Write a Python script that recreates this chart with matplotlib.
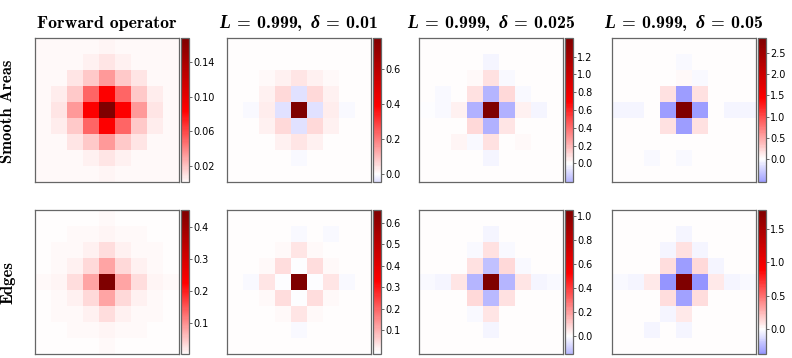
import numpy as np
import matplotlib
matplotlib.use("Agg")
import matplotlib.pyplot as plt

plt.rcParams['mathtext.fontset'] = 'custom'
plt.rcParams['mathtext.rm'] = 'cmr10'
plt.rcParams['mathtext.bf'] = 'cmb10'
plt.rcParams['mathtext.bfit'] = 'Liberation Serif:italic:bold'

#####################
# data (9x9 kernels)
smooth_fwd = [
    [0.0015, 0.0015, 0.0015, 0.002, 0.003, 0.002, 0.0015, 0.0015, 0.0015],
    [0.0015, 0.0015, 0.002, 0.004, 0.008, 0.004, 0.002, 0.0015, 0.0015],
    [0.0015, 0.0025, 0.008, 0.018, 0.034, 0.018, 0.008, 0.0025, 0.0015],
    [0.002, 0.006, 0.018, 0.050, 0.085, 0.050, 0.018, 0.006, 0.002],
    [0.0025, 0.008, 0.034, 0.085, 0.168, 0.085, 0.034, 0.008, 0.0025],
    [0.002, 0.006, 0.018, 0.050, 0.085, 0.050, 0.018, 0.006, 0.002],
    [0.0015, 0.0025, 0.008, 0.018, 0.034, 0.018, 0.008, 0.0025, 0.0015],
    [0.0015, 0.0015, 0.002, 0.004, 0.008, 0.004, 0.002, 0.0015, 0.0015],
    [0.0015, 0.0015, 0.0015, 0.002, 0.003, 0.002, 0.0015, 0.0015, 0.0015],
]
smooth_d010 = [
    [0, 0, 0, 0, 0, 0, 0, 0, 0],
    [0, 0, 0, 0, 0.005, 0, 0, 0, 0],
    [0, 0, 0.008, 0.020, 0.039, 0.020, 0.008, 0, 0],
    [0, 0, 0.022, 0.058, -0.046, 0.058, 0.022, 0, 0],
    [0, -0.012, 0.030, -0.046, 0.777, -0.046, 0.030, -0.012, 0],
    [0, 0, 0.022, 0.058, -0.046, 0.058, 0.022, 0, 0],
    [0, 0, 0.005, 0.020, 0.039, 0.020, 0.005, 0, 0],
    [0, 0, 0, 0, -0.012, 0, 0, 0, 0],
    [0, 0, 0, 0, 0, 0, 0, 0, 0],
]
smooth_d025 = [
    [0, 0, 0, 0, 0, 0, 0, 0, 0],
    [0, 0, 0, 0, -0.028, 0, 0, 0, 0],
    [0, 0, 0.007, 0.014, 0.085, -0.020, 0.007, 0, 0],
    [0, -0.020, 0.005, 0.085, -0.200, 0.106, -0.020, 0, 0],
    [-0.010, -0.020, 0.040, -0.210, 1.410, -0.210, 0.035, -0.025, 0],
    [0, 0, 0.007, 0.106, -0.210, 0.070, 0.010, 0, 0],
    [0, 0, 0.028, -0.014, 0.085, 0, 0.020, 0, 0],
    [0, 0, 0, 0, -0.028, 0, 0, 0, 0],
    [0, 0, 0, 0, 0, 0, 0, 0, 0],
]
smooth_d050 = [
    [0, 0, 0, 0, 0, 0, 0, 0, 0],
    [0, 0, 0, 0, -0.040, 0, 0, 0, 0],
    [0, 0, 0, 0, 0.030, -0.040, 0, 0, 0],
    [0, 0, 0, 0.170, -0.550, 0.170, 0, 0, 0],
    [-0.055, -0.055, 0, -0.550, 2.860, -0.550, 0, -0.050, -0.050],
    [0, 0, 0, 0.170, -0.550, 0.170, 0, 0, 0],
    [0, 0, 0.020, 0, 0, 0, 0.015, 0, 0],
    [0, 0, -0.040, 0, -0.040, 0, 0, 0, 0],
    [0, 0, 0, 0, 0, 0, 0, 0, 0],
]
edges_fwd = [
    [0.003, 0.003, 0.003, 0.003, 0.004, 0.003, 0.003, 0.003, 0.003],
    [0.003, 0.003, 0.004, 0.005, 0.009, 0.005, 0.004, 0.003, 0.003],
    [0.003, 0.004, 0.007, 0.014, 0.030, 0.014, 0.007, 0.004, 0.003],
    [0.003, 0.005, 0.014, 0.034, 0.079, 0.034, 0.014, 0.005, 0.003],
    [0.004, 0.009, 0.030, 0.079, 0.453, 0.079, 0.030, 0.009, 0.004],
    [0.003, 0.005, 0.014, 0.034, 0.079, 0.034, 0.014, 0.005, 0.003],
    [0.003, 0.004, 0.007, 0.014, 0.030, 0.014, 0.007, 0.004, 0.003],
    [0.003, 0.003, 0.004, 0.005, 0.009, 0.005, 0.004, 0.003, 0.003],
    [0.003, 0.003, 0.003, 0.003, 0.004, 0.003, 0.003, 0.003, 0.003],
]
edges_d010 = [
    [0, 0, 0, 0, 0, 0, 0, 0, 0],
    [0, 0, 0, 0, -0.010, 0, -0.006, 0, 0],
    [0, 0, 0, 0.007, 0.033, 0.007, 0, 0, 0],
    [0, 0, 0.007, 0.043, -0.004, 0.043, 0.007, 0, 0],
    [0, -0.010, 0.033, -0.004, 0.660, -0.004, 0.033, -0.010, 0],
    [0, 0, 0.007, 0.043, -0.004, 0.043, 0.007, 0, 0],
    [0, 0, 0, 0.007, 0.033, 0.007, 0, 0, 0],
    [0, 0, 0, 0, -0.010, 0, 0, 0, 0],
    [0, 0, 0, 0, 0, 0, 0, 0, 0],
]
edges_d025 = [
    [0, 0, 0, 0, 0, 0, 0, 0, 0],
    [0, 0, 0, 0, -0.020, 0, 0, 0, 0],
    [0, 0, 0.005, -0.010, 0.063, -0.015, 0.005, 0, 0],
    [0, 0, 0, 0.063, -0.130, 0.079, -0.015, 0, 0],
    [-0.010, -0.020, 0.052, -0.150, 1.050, -0.150, 0.052, -0.020, -0.010],
    [0, 0, 0, 0.079, -0.140, 0.063, 0.005, 0, 0],
    [0, 0, 0.005, -0.015, 0.052, 0, 0.005, 0, 0],
    [0, 0, 0, 0, -0.020, 0, 0, 0, 0],
    [0, 0, 0, 0, 0, 0, 0, 0, 0],
]
edges_d050 = [
    [0, 0, 0, 0, 0, 0, 0, 0, 0],
    [0, 0, 0, 0, -0.030, 0, 0, 0, 0],
    [0, 0, 0, -0.030, 0.107, -0.030, 0.010, 0, 0],
    [0, 0, 0, 0.116, -0.340, 0.130, -0.030, 0, 0],
    [-0.020, -0.030, 0.070, -0.370, 1.780, -0.370, 0.070, -0.040, -0.015],
    [0, 0, 0, 0.116, -0.330, 0.116, 0, 0, 0],
    [0, 0.008, 0.008, -0.030, 0.070, 0, 0.010, 0, 0],
    [0, 0, -0.030, 0, -0.030, 0, 0, 0, 0],
    [0, 0, 0, 0, 0, 0, 0, 0, 0],
]

col_titles = [r'Forward operator',
              r'$\mathbfit{L}\,\mathbf{=}\,\mathbf{0.999,}\;\mathbfit{\delta}\,\mathbf{=}\,\mathbf{0.01}$',
              r'$\mathbfit{L}\,\mathbf{=}\,\mathbf{0.999,}\;\mathbfit{\delta}\,\mathbf{=}\,\mathbf{0.025}$',
              r'$\mathbfit{L}\,\mathbf{=}\,\mathbf{0.999,}\;\mathbfit{\delta}\,\mathbf{=}\,\mathbf{0.05}$']
row_labels = ['Smooth Areas', 'Edges']
panels = [[smooth_fwd, smooth_d010, smooth_d025, smooth_d050],
          [edges_fwd, edges_d010, edges_d025, edges_d050]]
cbar_ticks = [[[0.02, 0.06, 0.10, 0.14], [0.0, 0.2, 0.4, 0.6],
               [0.0, 0.2, 0.4, 0.6, 0.8, 1.0, 1.2], [0.0, 0.5, 1.0, 1.5, 2.0, 2.5]],
              [[0.1, 0.2, 0.3, 0.4], [0.1, 0.2, 0.3, 0.4, 0.5, 0.6],
               [0.0, 0.2, 0.4, 0.6, 0.8, 1.0], [0.0, 0.5, 1.0, 1.5]]]
#####################

W, H = 792, 358
fig = plt.figure(figsize=(W/100, H/100), dpi=100)
col_x = [35, 227, 419, 612]
row_y = [38, 210]
size = 144

for r in range(2):
    for c in range(4):
        data = np.array(panels[r][c], dtype=float)
        vmax = data.max()
        lo = data.min()
        x, y = col_x[c], row_y[r]
        ax = fig.add_axes([x/W, (H-y-size)/H, size/W, size/H])
        cax = fig.add_axes([(x+size+2)/W, (H-y-size)/H, 8/W, size/H])
        im = ax.imshow(data, cmap='seismic', vmin=-vmax, vmax=vmax,
                       interpolation='nearest', aspect='auto')
        ax.set_xticks([])
        ax.set_yticks([])
        for sp in ax.spines.values():
            sp.set_color('0.4')
            sp.set_linewidth(0.9)
        cb = fig.colorbar(im, cax=cax, boundaries=np.linspace(lo, vmax, 257))
        cb.set_ticks(cbar_ticks[r][c])
        if r == 0 and c == 0:
            cb.ax.set_yticklabels(['%.2f' % t for t in cbar_ticks[r][c]])
        else:
            cb.ax.set_yticklabels(['%.1f' % t for t in cbar_ticks[r][c]])
        cb.ax.tick_params(labelsize=7, length=2, width=0.6, pad=1, color='0.3')
        cb.outline.set_edgecolor('0.4')
        cb.outline.set_linewidth(0.9)
        if r == 0:
            if c == 0:
                ax.set_title(col_titles[c], fontsize=12.8, pad=7, family='cmb10')
            else:
                ax.set_title(col_titles[c], fontsize=12.8, pad=7)

fig.text(8/W, 1 - 111/H, row_labels[0], rotation=90, ha='center', va='center',
         fontsize=12, family='cmb10')
fig.text(8/W, 1 - 282/H, row_labels[1], rotation=90, ha='center', va='center',
         fontsize=12, family='cmb10')

fig.savefig('out.png', dpi=100)
